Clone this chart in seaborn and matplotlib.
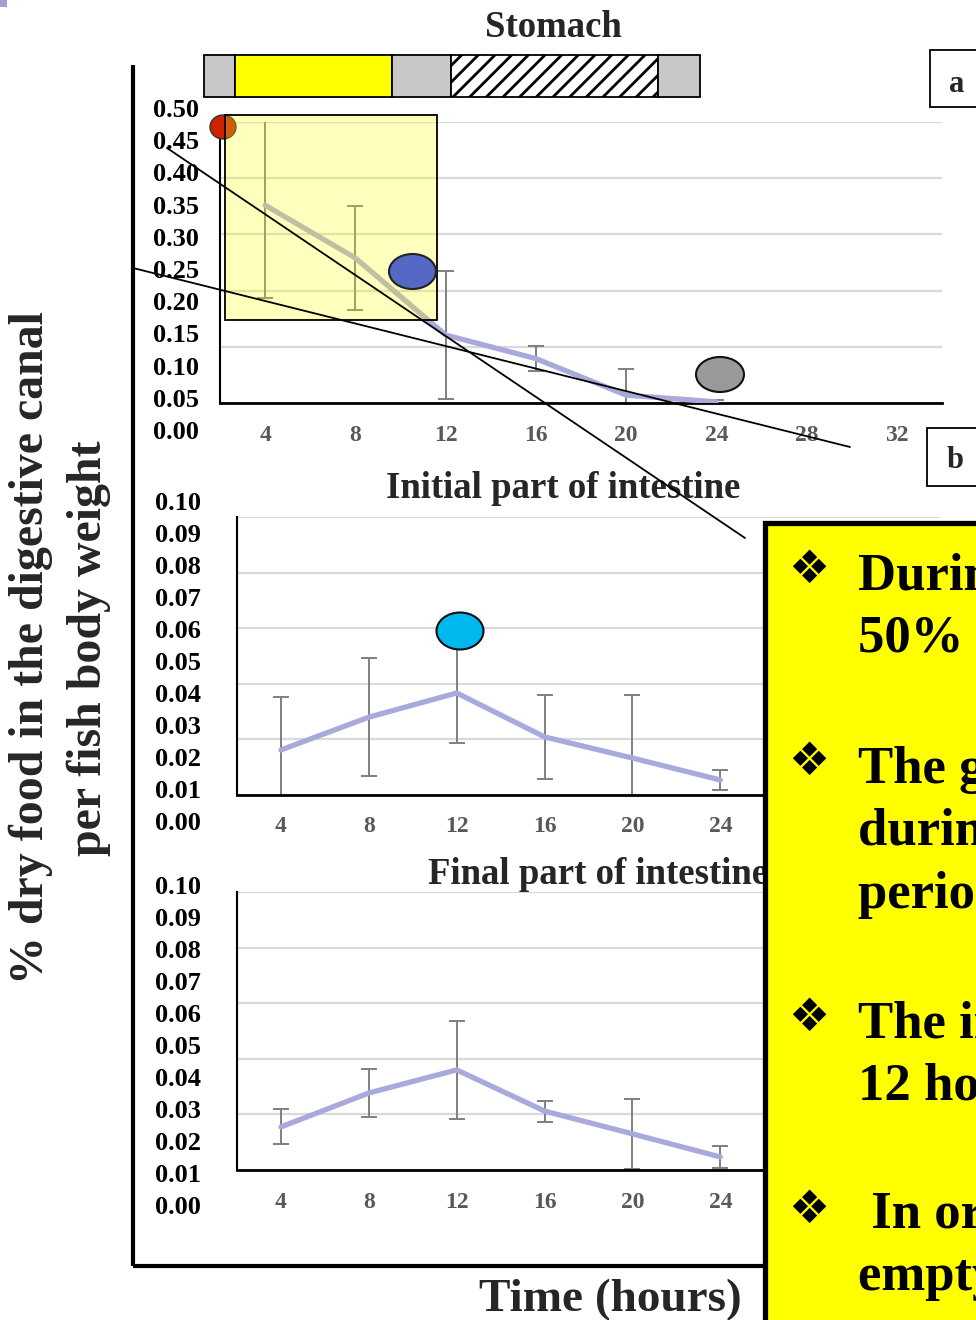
import numpy as np
import pandas as pd
import matplotlib
matplotlib.use("Agg")
import matplotlib.pyplot as plt
import seaborn as sns
from matplotlib.patches import Rectangle, Ellipse
from matplotlib.lines import Line2D

# ---------------- data ----------------
hours = [4, 8, 12, 16, 20, 24]
axis_hours = [4, 8, 12, 16, 20, 24, 28, 32]
stomach_x_labels = ["4", "8", "12", "16", "20", "24", "28", "32"]
intestine_x_labels = ["4", "8", "12", "16", "20", "24", "", ""]

stomach = [0.352, 0.258, 0.121, 0.079, 0.014, 0.002]
stomach_err = [0.165, 0.093, 0.114, 0.022, 0.046, 0.003]

initial = [0.0162, 0.0280, 0.0367, 0.0209, 0.0133, 0.0054]
initial_err = [0.0190, 0.0212, 0.0180, 0.0150, 0.0227, 0.0035]

final = [0.0155, 0.0277, 0.0360, 0.0212, 0.0130, 0.0047]
final_err = [0.0063, 0.0086, 0.0175, 0.0038, 0.0125, 0.0040]

stomach_ticks = [0.00, 0.05, 0.10, 0.15, 0.20, 0.25, 0.30, 0.35, 0.40, 0.45, 0.50]
stomach_tick_labels = ["0.00", "0.05", "0.10", "0.15", "0.20", "0.25",
                       "0.30", "0.35", "0.40", "0.45", "0.50"]
intestine_ticks = [0.00, 0.01, 0.02, 0.03, 0.04, 0.05, 0.06, 0.07, 0.08, 0.09, 0.10]
intestine_tick_labels = ["0.00", "0.01", "0.02", "0.03", "0.04", "0.05",
                         "0.06", "0.07", "0.08", "0.09", "0.10"]

titles = ["Stomach", "Initial part of intestine", "Final part of intestine"]
y_label_1 = "% dry food in the digestive canal"
y_label_2 = "per fish body weight"
x_label = "Time (hours)"
notes = [
    ["During the first 12 hours about", "50% of the food left the stomach"],
    ["The gastric evacuation was faster", "during the first half of the",
     "period of digestion"],
    ["The intestine was full after", "12 hours of digestion"],
    [" In order for the tract to be", "empty, 24 hours are needed"],
]

# ---------------- style ----------------
sns.set_theme(style="white")
plt.rcParams['font.family'] = ['Liberation Serif', 'DejaVu Sans']
plt.rcParams['font.weight'] = 'bold'
plt.rcParams['hatch.linewidth'] = 2.0

LINE = '#a9a9dc'
GRID = '#d9d9d9'
ERR = '#7f7f7f'

W, H = 976, 1320
fig = plt.figure(figsize=(W / 100, H / 100), dpi=100)
fig.patch.set_facecolor('white')


def rect(left, top, right, bottom):
    return [left / W, 1 - bottom / H, (right - left) / W, (bottom - top) / H]


def fx(x):
    return x / W


def fy(y):
    return 1 - y / H


def panel(axrect, labrect, values, errs, ymax, step, ticks, tick_labels, xlabels, xpad):
    ax = fig.add_axes(axrect)
    ax.set_facecolor('none')
    ax.errorbar(hours, values, yerr=errs, fmt='none', ecolor=ERR,
                elinewidth=1.4, capsize=6, capthick=1.4, zorder=2)
    df = pd.DataFrame({'hour': hours, 'value': values})
    sns.lineplot(data=df, x='hour', y='value', ax=ax, color=LINE,
                 linewidth=3.8, zorder=3, solid_capstyle='round')
    ax.set_xlim(2, 34)
    ax.set_ylim(0, ymax)
    ax.set_yticks(np.arange(0, ymax + 1e-9, step))
    ax.set_yticklabels([])
    ax.yaxis.grid(True, color=GRID, lw=1.6)
    ax.xaxis.grid(False)
    ax.set_axisbelow(True)
    ax.set_xticks(axis_hours)
    ax.set_xticklabels(xlabels, color='#595959', fontsize=17, fontweight='bold')
    ax.tick_params(axis='x', length=0, pad=xpad)
    ax.tick_params(axis='y', length=0)
    ax.set_xlabel('')
    ax.set_ylabel('')
    for s in ['top', 'right']:
        ax.spines[s].set_visible(False)
    ax.spines['left'].set_color('black')
    ax.spines['left'].set_linewidth(1.5)
    ax.spines['bottom'].set_color('black')
    ax.spines['bottom'].set_linewidth(2.0)

    lab = fig.add_axes(labrect)
    lab.set_ylim(0, ticks[-1])
    lab.set_yticks(ticks)
    lab.set_yticklabels(tick_labels, fontsize=19, fontweight='bold', color='black')
    lab.tick_params(axis='y', length=0, pad=0)
    lab.set_xticks([])
    lab.set_frame_on(False)
    lab.patch.set_alpha(0)
    lab.grid(False)
    return ax


ax1 = panel(rect(220, 122, 942, 403), rect(199, 108, 200, 430), stomach, stomach_err,
            0.5, 0.1, stomach_ticks, stomach_tick_labels, stomach_x_labels, 16)
ax2 = panel(rect(237, 517, 940, 795), rect(201, 501, 202, 821), initial, initial_err,
            0.10, 0.02, intestine_ticks, intestine_tick_labels, intestine_x_labels, 15)
ax3 = panel(rect(237, 892, 940, 1170), rect(201, 885, 202, 1205), final, final_err,
            0.10, 0.02, intestine_ticks, intestine_tick_labels, intestine_x_labels, 16)

# ---------------- titles and labels ----------------
fig.text(fx(553), fy(37), titles[0], fontsize=26.5, ha='center', va='baseline')
fig.text(fx(563), fy(498), titles[1], fontsize=26.5, ha='center', va='baseline')
fig.text(fx(428), fy(884), titles[2], fontsize=26.5, ha='left', va='baseline')
fig.text(fx(31), fy(648), y_label_1, fontsize=34.5, rotation=90, ha='center', va='center')
fig.text(fx(89), fy(648), y_label_2, fontsize=34.5, rotation=90, ha='center', va='center')
fig.text(fx(610), fy(1311), x_label, fontsize=34, ha='center', va='baseline')

# ---------------- big frame ----------------
fig.add_artist(Line2D([fx(133), fx(133)], [fy(65), fy(1266)], color='black', lw=3,
                      transform=fig.transFigure, solid_capstyle='butt'))
fig.add_artist(Line2D([fx(133), fx(765)], [fy(1266), fy(1266)], color='black', lw=3,
                      transform=fig.transFigure, solid_capstyle='butt'))
fig.add_artist(Rectangle((0, fy(7)), fx(7), 7 / H, facecolor='#a0a0d8',
                         edgecolor='none', transform=fig.transFigure))

# ---------------- stomach phase bar ----------------
bar_top, bar_bot = 55, 97
segments = [(204, 235, '#c8c8c8', None), (235, 392, '#ffff00', None),
            (392, 451, '#c8c8c8', None), (451, 658, 'white', '//'),
            (658, 700, '#c8c8c8', None)]
for x0, x1, c, h in segments:
    fig.add_artist(Rectangle((fx(x0), fy(bar_bot)), (x1 - x0) / W, (bar_bot - bar_top) / H,
                             facecolor=c, edgecolor='black', lw=1.3, hatch=h,
                             transform=fig.transFigure, zorder=2))

# ---------------- label boxes ----------------
fig.add_artist(Rectangle((fx(930), fy(107)), 80 / W, 57 / H, facecolor='white',
                         edgecolor='black', lw=1.3, transform=fig.transFigure, zorder=2))
fig.text(fx(957), fy(84), 'a', fontsize=22, ha='center', va='center', zorder=3)
fig.add_artist(Rectangle((fx(927), fy(486)), 80 / W, 58 / H, facecolor='white',
                         edgecolor='black', lw=1.3, transform=fig.transFigure, zorder=2))
fig.text(fx(955), fy(460), 'b', fontsize=22, ha='center', va='center', zorder=3)

# ---------------- annotation shapes ----------------
fig.add_artist(Ellipse((fx(223), fy(127)), 26 / W, 24 / H, facecolor='#cc2200',
                       edgecolor='#333333', lw=1, transform=fig.transFigure, zorder=1.5))
fig.add_artist(Rectangle((fx(225), fy(320)), (437 - 225) / W, (320 - 115) / H,
                         facecolor=(1, 1, 0, 0.26), edgecolor='black', lw=1.3,
                         transform=fig.transFigure, zorder=2))
fig.add_artist(Ellipse((fx(412.5), fy(271.5)), 47 / W, 35 / H, facecolor='#5568c5',
                       edgecolor='#222222', lw=1.5, transform=fig.transFigure, zorder=3))
fig.add_artist(Ellipse((fx(720), fy(374.5)), 48 / W, 35 / H, facecolor='#999999',
                       edgecolor='#111111', lw=1.5, transform=fig.transFigure, zorder=3))
fig.add_artist(Ellipse((fx(460), fy(631)), 47 / W, 37 / H, facecolor='#00b8ee',
                       edgecolor='#111111', lw=1.5, transform=fig.transFigure, zorder=3))

fig.add_artist(Line2D([fx(167), fx(745)], [fy(148), fy(538)], color='black', lw=1.3,
                      transform=fig.transFigure, zorder=4))
fig.add_artist(Line2D([fx(133), fx(850)], [fy(268), fy(447)], color='black', lw=1.3,
                      transform=fig.transFigure, zorder=4))

# ---------------- yellow notes box ----------------
fig.add_artist(Rectangle((fx(765), fy(1330)), 240 / W, (1330 - 523) / H,
                         facecolor='#ffff00', edgecolor='black', lw=3.8,
                         transform=fig.transFigure, zorder=5))
bullet_y = [570, 762, 1018, 1210]
line_baselines = [[590, 652], [783, 845, 908], [1038, 1100], [1228, 1290]]
for by, lines, bases in zip(bullet_y, notes, line_baselines):
    fig.text(fx(809), fy(by), '\u2756', fontsize=33, ha='center', va='center',
             family=['DejaVu Sans'], color='black', zorder=6)
    for t, b in zip(lines, bases):
        fig.text(fx(858), fy(b), t, fontsize=38, ha='left', va='baseline',
                 color='black', zorder=6)

fig.savefig('out.png', dpi=100, facecolor='white')
